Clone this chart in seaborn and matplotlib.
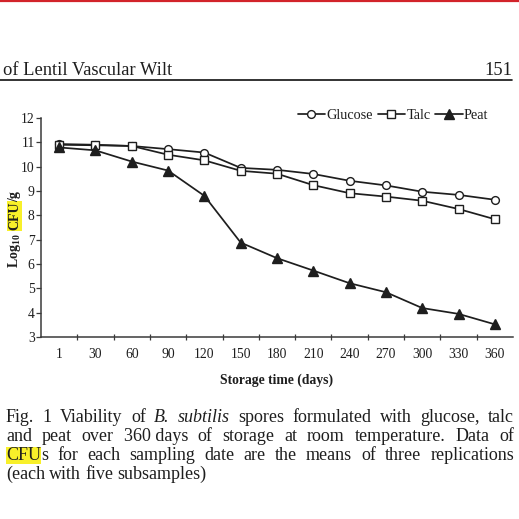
import matplotlib
matplotlib.use("Agg")
import matplotlib.pyplot as plt
from matplotlib.lines import Line2D
import seaborn as sns
import numpy as np
import pandas as pd


# data (log10 CFU/g)
days = ["1", "30", "60", "90", "120", "150", "180", "210", "240", "270", "300", "330", "360"]
glucose = [10.93, 10.90, 10.85, 10.72, 10.58, 9.95, 9.87, 9.70, 9.42, 9.23, 8.97, 8.84, 8.64]
talc = [10.90, 10.88, 10.85, 10.49, 10.26, 9.83, 9.71, 9.24, 8.91, 8.77, 8.60, 8.26, 7.84]
peat = [10.79, 10.67, 10.21, 9.84, 8.80, 6.88, 6.24, 5.73, 5.21, 4.84, 4.19, 3.95, 3.52]
yticks = list(range(3, 13))

header_left = "of Lentil Vascular Wilt"
header_right = "151"
caption_lines = [
    "Fig. 1 Viability of B. subtilis spores formulated with glucose, talc",
    "and peat over 360\u00a0days of storage at room temperature. Data of",
    "CFUs for each sampling date are the means of three replications",
    "(each with five subsamples)",
]
italic_words = {"B.", "subtilis"}


sns.set_style("white")
plt.rcParams["font.family"] = ["Liberation Serif", "DejaVu Serif"]
plt.rcParams["mathtext.fontset"] = "custom"
plt.rcParams["mathtext.rm"] = "Liberation Serif"
plt.rcParams["mathtext.bf"] = "Liberation Serif:bold"
plt.rcParams["mathtext.it"] = "Liberation Serif:italic"

INK = "#1e1e1e"
HL = "#f8f02a"
W = H = 519

fig = plt.figure(figsize=(W / 100, H / 100), dpi=100)
fig.patch.set_facecolor("white")


def fx(x):
    return x / W


def fy(y):
    return 1 - y / H


# axes box in pixels: x 41..513, y 118..337
ax = fig.add_axes([fx(41), fy(337), fx(513) - fx(41), fy(118) - fy(337)])
ax.set_facecolor("white")

pos = np.arange(len(days))
series = [
    ("Glucose", glucose, "o", "white", 5.6),
    ("Talc", talc, "s", "white", 5.4),
    ("Peat", peat, "^", INK, 6.6),
]
for name, vals, mk, mfc, ms in series:
    sns.lineplot(x=pos, y=vals, ax=ax, color=INK, linewidth=1.25,
                 marker=mk, markersize=ms, markerfacecolor=mfc,
                 markeredgecolor=INK, markeredgewidth=1.0, legend=False)

ax.set_xlim(-0.5, len(days) - 0.5)
ax.set_ylim(3, 12)
ax.set_yticks(yticks)
ax.set_yticklabels([str(v) for v in yticks])
ax.set_xticks(pos)
ax.set_xticklabels(days)
ax.set_xticks(pos[:-1] + 0.5, minor=True)

for s in ["top", "right"]:
    ax.spines[s].set_visible(False)
for s in ["left", "bottom"]:
    ax.spines[s].set_color("#3a3a3a")
    ax.spines[s].set_linewidth(1.1)

ax.tick_params(axis="y", which="major", direction="out", length=3.5, width=0.9,
               color="#3a3a3a", labelsize=9.8, labelcolor=INK, pad=1, left=True)
ax.tick_params(axis="x", which="major", length=0, labelsize=9.8, labelcolor=INK, pad=8)
ax.tick_params(axis="x", which="minor", direction="inout", length=5, width=0.9,
               color="#3a3a3a", bottom=True)
ax.grid(False)

ax.set_xlabel("Storage time (days)", fontsize=9.8, fontweight="bold", color=INK, labelpad=9)

handles = [Line2D([], [], color=INK, linewidth=1.25, marker=mk, markersize=ms,
                  markerfacecolor=mfc, markeredgecolor=INK, markeredgewidth=1.0)
           for _, _, mk, mfc, ms in series]
leg = fig.legend(handles, [s[0] for s in series], ncol=3, loc="center",
                 bbox_to_anchor=(fx(393), fy(115)), frameon=False, fontsize=10.3,
                 handlelength=1.9, handletextpad=0.1, columnspacing=0.35,
                 borderpad=0, labelcolor=INK)

# page header
fig.add_artist(Line2D([0, 1], [fy(0.8), fy(0.8)], color="#d2232a", linewidth=1.6))
fig.text(fx(3), fy(75), header_left, fontsize=13.3, color=INK, ha="left", va="baseline")
fig.text(fx(512), fy(75), header_right, fontsize=13.3, color=INK, ha="right", va="baseline")
fig.add_artist(Line2D([0, fx(512)], [fy(80), fy(80)], color="#111111", linewidth=1.2))

fig.canvas.draw()
rend = fig.canvas.get_renderer()


def width_of(t):
    return t.get_window_extent(renderer=rend).width


# y label: pieces stacked along a vertical baseline
ylab = [
    (r"$\mathbf{Log}_{\mathbf{10}}$", False),
    ("\u2009", False),
    ("CFU", True),
    ("/g", False),
]
yb = H - 268
for txt, hl in ylab:
    kw = dict(fontsize=10, fontweight="bold", color=INK, rotation=90,
              rotation_mode="anchor", ha="left", va="baseline")
    if hl:
        kw["bbox"] = dict(facecolor=HL, edgecolor="none", pad=0.6)
    t = fig.text(fx(18), yb / H, txt, **kw)
    if txt.strip() == "":
        yb += 3
    else:
        yb += t.get_window_extent(renderer=rend).height

# caption, justified between x=6 and x=514
left, right = 6, 514
baselines = [422, 441, 460, 479]
for li, (line, base) in enumerate(zip(caption_lines, baselines)):
    words = line.split(" ")
    groups = []
    for w in words:
        kw = dict(fontsize=13, color=INK, ha="left", va="baseline")
        if w in italic_words:
            kw["style"] = "italic"
        if w == "CFUs":
            a = fig.text(0, fy(base), "CFU", bbox=dict(facecolor=HL, edgecolor="none", pad=0.3), **kw)
            b = fig.text(0, fy(base), "s", **kw)
            groups.append([a, b])
        else:
            groups.append([fig.text(0, fy(base), w, **kw)])
    widths = [sum(width_of(t) for t in g) for g in groups]
    last = li == len(caption_lines) - 1
    if last or len(groups) == 1:
        gap = 4.0
    else:
        gap = (right - left - sum(widths)) / (len(groups) - 1)
    x = left
    for g, wd in zip(groups, widths):
        xx = x
        for t in g:
            t.set_x(fx(xx))
            xx += width_of(t)
        x += wd + gap

fig.savefig("out.png", dpi=100, facecolor="white")
